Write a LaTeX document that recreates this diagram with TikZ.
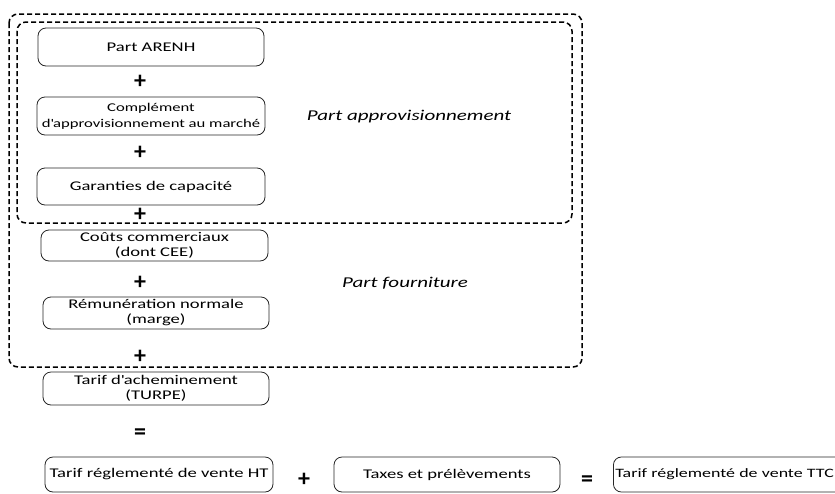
\documentclass[tikz,border=0pt]{standalone}
\usepackage{fontspec}
\setmainfont{Carlito}[FakeStretch=1.4]
\newfontfamily\signfont{Carlito}
\begin{document}
\begin{tikzpicture}[x=1pt,y=-1pt,
  every node/.style={font=\fontsize{13.3}{15}\selectfont},
  bx/.style={draw=black!85, line width=0.8pt, rounded corners=8pt, align=center, inner sep=1pt},
  grp/.style={draw=black, line width=1.5pt, dash pattern=on 5pt off 3pt, rounded corners=9pt},
  sign/.style={font=\signfont\fontsize{24}{24}\bfseries\selectfont, inner sep=0pt},
  lbl/.style={font=\fontsize{15}{16}\itshape\selectfont, inner sep=0pt}]
\useasboundingbox (0,0) rectangle (835,493);
% group outlines
\draw[grp] (9,14) rectangle (582,367);
\draw[grp] (17,22) rectangle (572,223);
% boxes
\node[bx, minimum width=226pt, minimum height=38pt] (arenh) at (151,47) {Part ARENH};
\node[bx, minimum width=228pt, minimum height=38pt, font=\fontsize{11.9}{16}\selectfont] (compl) at (151,116) {Complément\\d\textquotesingle approvisionnement au marché};
\node[bx, minimum width=228pt, minimum height=37pt] (garant) at (151,186.5) {Garanties de capacité};
\node[bx, minimum width=227pt, minimum height=31pt] (couts) at (154.5,245.5) {Coûts commerciaux\\(dont CEE)};
\node[bx, minimum width=226pt, minimum height=32pt] (remun) at (156,313) {Rémunération normale\\(marge)};
\node[bx, minimum width=226pt, minimum height=33pt] (ach) at (156,388.5) {Tarif d\textquotesingle acheminement\\(TURPE)};
\node[bx, minimum width=228pt, minimum height=35pt] (ht) at (159,474.5) {Tarif réglementé de vente HT};
\node[bx, minimum width=226pt, minimum height=35pt] (taxes) at (447,474.5) {Taxes et prélèvements};
\node[bx, minimum height=35pt, inner xsep=2pt, text width=240pt, align=left, anchor=west, font=\fontsize{12.8}{15}\selectfont] (ttc) at (613,474.5) {Tarif réglementé de vente TTC};
% signs
\node[sign] (p1) at (140,82) {+};
\node[sign] (p2) at (140,153) {+};
\node[sign] (p3) at (140,215) {+};
\node[sign] (p4) at (140,283) {+};
\node[sign] (p5) at (140,357) {+};
\node[sign] (e1) at (140,434) {=};
\node[sign] (p6) at (304,480) {+};
\node[sign] (e2) at (587,481) {=};
% labels
\node[lbl] (lapp) at (409,117) {Part approvisionnement};
\node[lbl] (lfour) at (405,283) {Part fourniture};
\end{tikzpicture}
\end{document}
